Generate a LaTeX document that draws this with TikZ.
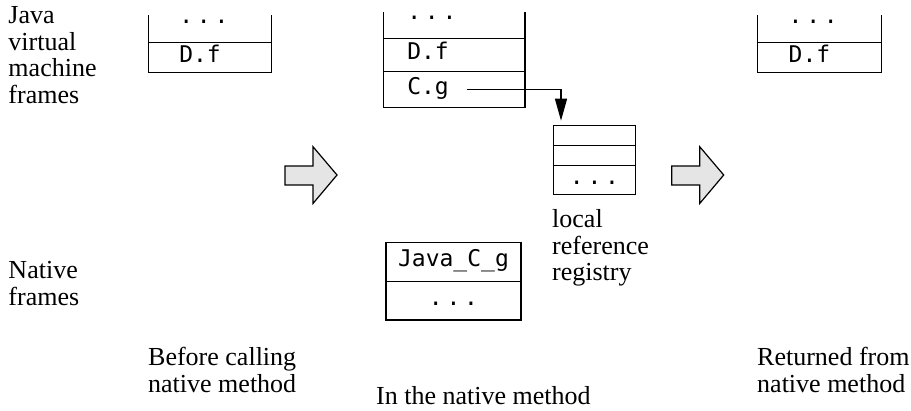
\documentclass[tikz,border=0pt]{standalone}
\usepackage{fontspec}
\setmainfont{Liberation Serif}
\newfontfamily\codefamily{DejaVu Sans Mono}
\usetikzlibrary{arrows.meta,positioning}
\newcommand\labelfont{\fontsize{26pt}{26.8pt}\selectfont}
\newcommand\cellfont{\codefamily\fontsize{23pt}{27pt}\selectfont}
\newcommand\celldots{.\kern3.8pt.\kern3.8pt.}

\tikzset{
  cell/.style={draw, line width=1.2pt, outer sep=0pt, inner ysep=0pt,
    text height=14pt, text depth=5pt, font=\cellfont},
  sidecell/.style={cell, inner xsep=31pt, text width=61.4pt, align=left},
  midcell/.style={cell, inner xsep=24pt, text width=93.7pt, align=left},
  opencell/.style={draw=none, text height=3pt, text depth=14pt},
  framelabel/.style={anchor=north west, inner sep=0pt, align=left, font=\labelfont},
  bigarrow/.style={draw, line width=1.2pt, fill=black!10},
  link/.style={line width=1.2pt, -{Triangle[length=22pt,width=12pt]}, shorten >=5pt}
}

\begin{document}
\begin{tikzpicture}[x=1pt, y=-1pt]
    \useasboundingbox (0,0) rectangle (911,410);

    % labels
    \node[framelabel] (jvm) at (8.3,6) {Java\\virtual\\machine\\frames};
    \node[framelabel] (native) at (8.3,260.8) {Native\\frames};
    \node[framelabel] (before) at (148,347) {Before calling\\native method};
    \node[framelabel] (during) at (376,386) {In the native method};
    \node[framelabel] (after) at (757,347) {Returned from\\native method};
    \node[framelabel] (reglabel) at (552,209) {local\\reference\\registry};

    % left stack
    \node[sidecell, opencell, minimum height=27.3pt, anchor=north west] (lopen) at (148.3,15) {\celldots};
    \node[sidecell, minimum height=30.4pt, below=0pt of lopen] (ldf) {D.f};

    % middle stack
    \node[midcell, opencell, minimum height=26.3pt, anchor=north west] (mopen) at (383.3,12) {\celldots};
    \node[midcell, minimum height=33.4pt, below=0pt of mopen] (mdf) {D.f};
    \node[midcell, minimum height=35.6pt, below=0pt of mdf] (mcg) {C.g};

    % right stack
    \node[sidecell, opencell, minimum height=27.3pt, anchor=north west] (ropen) at (757.7,15) {\celldots};
    \node[sidecell, minimum height=30.4pt, below=0pt of ropen] (rdf) {D.f};

    \foreach \s in {lopen,mopen,ropen}
        \draw[line width=1.2pt] (\s.north west) -- (\s.south west) (\s.north east) -- (\s.south east);

    % registry
    \node[cell, minimum width=82.4pt, minimum height=20pt, anchor=north west] (reg1) at (553.3,125.7) {};
    \node[cell, minimum width=82.4pt, minimum height=20pt, below=0pt of reg1] (reg2) {};
    \node[cell, minimum width=82.4pt, minimum height=28.6pt, below=0pt of reg2] (reg3) {\celldots};

    % native frames
    \node[cell, minimum width=135pt, minimum height=39pt, anchor=north west] (jcg) at (386,242.7) {Java\_C\_g};
    \node[cell, minimum width=135pt, minimum height=38.3pt, below=0pt of jcg] (jdots) {\celldots};

    \draw[link] ([xshift=83.4pt]mcg.west) -| ([xshift=7.7pt]reg1.north west);

    \foreach \x in {285,671.7}
        \draw[bigarrow, shift={(\x,0)}] (0,166) -- (28,166) -- (28,146.7) -- (52,175) -- (28,203.5) -- (28,185) -- (0,185) -- cycle;

\end{tikzpicture}
\end{document}
